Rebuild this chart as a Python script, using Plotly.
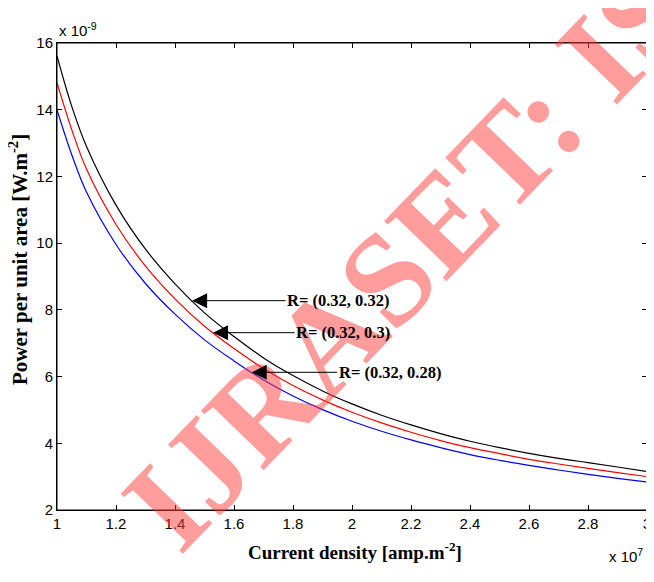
import plotly.graph_objects as go

# Current density (x 10^7 amp.m^-2)
current_density = [1.0, 1.05, 1.1, 1.2, 1.3, 1.4, 1.5, 1.6, 1.7, 1.8, 1.9, 2.0,
                   2.1, 2.2, 2.3, 2.4, 2.5, 2.6, 2.7, 2.8, 2.9, 3.0]

# Power per unit area (x 10^-9 W.m^-2)
power_r_032_032 = [15.61, 14.10, 12.90, 11.14, 9.82, 8.78, 7.91, 7.20, 6.56, 6.03, 5.57, 5.18,
                   4.84, 4.55, 4.29, 4.06, 3.87, 3.70, 3.55, 3.42, 3.29, 3.15]
power_r_032_030 = [14.81, 13.40, 12.22, 10.56, 9.31, 8.33, 7.51, 6.84, 6.24, 5.73, 5.30, 4.93,
                   4.61, 4.33, 4.08, 3.87, 3.69, 3.52, 3.38, 3.25, 3.12, 3.00]
power_r_032_028 = [13.99, 12.65, 11.53, 9.96, 8.79, 7.87, 7.10, 6.47, 5.90, 5.42, 5.01, 4.66,
                   4.36, 4.10, 3.87, 3.66, 3.49, 3.34, 3.20, 3.07, 2.95, 2.84]

series_names = ["R= (0.32, 0.32)", "R= (0.32, 0.3)", "R= (0.32, 0.28)"]
series_colors = ["black", "red", "blue"]
series_values = [power_r_032_032, power_r_032_030, power_r_032_028]

x_ticks = [1, 1.2, 1.4, 1.6, 1.8, 2, 2.2, 2.4, 2.6, 2.8, 3]
y_ticks = [2, 4, 6, 8, 10, 12, 14, 16]

# arrow tips (data x) and text offsets (px)
arrow_x = [1.458, 1.529, 1.66]
arrow_ax = [146, 130, 138]

fig = go.Figure()
for name, col, vals in zip(series_names, series_colors, series_values):
    fig.add_trace(go.Scatter(x=current_density, y=vals, mode="lines", name=name,
                             line=dict(color=col, width=1.2, shape="spline", smoothing=1.0),
                             showlegend=False))

def interp(xq, xs, ys):
    for i in range(len(xs) - 1):
        if xs[i] <= xq <= xs[i + 1]:
            t = (xq - xs[i]) / (xs[i + 1] - xs[i])
            return ys[i] + t * (ys[i + 1] - ys[i])
    return ys[-1]

axis_common = dict(showline=True, linecolor="black", linewidth=1, mirror="ticks",
                   ticks="inside", ticklen=5, tickcolor="black", showgrid=False,
                   zeroline=False, automargin=False,
                   tickfont=dict(family="Liberation Sans", size=15, color="black"))

fig.update_xaxes(range=[1, 3], tickvals=x_ticks, ticktext=[f"{v:g}" for v in x_ticks],
                 ticklabeloverflow="allow", **axis_common)
fig.update_yaxes(range=[2, 16], tickvals=y_ticks, ticktext=[str(v) for v in y_ticks],
                 **axis_common)

# frame
fig.add_shape(type="rect", xref="paper", yref="paper", x0=0, y0=0, x1=1, y1=1,
              line=dict(color="black", width=1), layer="above")

# page offset (browser body margin) is 8px; plot area in page: x 57..647, y 43..510
PX0, PX1, PY0, PY1 = 57, 647, 43, 510
def px(xp):
    return (xp - PX0) / (PX1 - PX0)
def py(yp):
    return (PY1 - yp) / (PY1 - PY0)

# watermark
fig.add_annotation(xref="paper", yref="paper", x=px(408), y=py(256), text="<b>IJRASET: IS</b>",
                   showarrow=False, textangle=-46, xanchor="center", yanchor="middle",
                   font=dict(family="Liberation Serif", size=132, color="rgba(255,60,60,0.5)"))

for name, vals, xa, ax in zip(series_names, series_values, arrow_x, arrow_ax):
    fig.add_annotation(x=xa, y=interp(xa, current_density, vals), xref="x", yref="y",
                       text="<b>" + name + "</b>", showarrow=True, ax=ax, ay=0,
                       arrowhead=2, arrowsize=3, arrowwidth=1, arrowcolor="black",
                       font=dict(family="Liberation Serif", size=16.5, color="black"))

# axis titles
fig.add_annotation(xref="paper", yref="paper", x=px(355), y=py(551),
                   xanchor="center", yanchor="middle",
                   text="<b>Current density [amp.m<sup>-2</sup>]</b>", showarrow=False,
                   font=dict(family="Liberation Serif", size=19, color="black"))
fig.add_annotation(xref="paper", yref="paper", x=px(19), y=py(260),
                   xanchor="center", yanchor="middle",
                   text="<b>Power per unit area [W.m<sup>-2</sup>]</b>", showarrow=False,
                   textangle=-90,
                   font=dict(family="Liberation Serif", size=21, color="black"))

# exponent labels
fig.add_annotation(xref="paper", yref="paper", x=0, y=1.0, xanchor="left", yanchor="bottom",
                   text="x 10<sup>-9</sup>", showarrow=False, yshift=2,
                   font=dict(family="Liberation Sans", size=15, color="black"))
fig.add_annotation(xref="paper", yref="paper", x=px(645), y=py(555), xanchor="right",
                   yanchor="middle", text="x 10<sup>7</sup>", showarrow=False,
                   font=dict(family="Liberation Sans", size=15, color="black"))

fig.update_layout(width=646, height=574, margin=dict(l=49, r=7, t=35, b=72, autoexpand=False),
                  paper_bgcolor="white", plot_bgcolor="white")
fig.write_html("out.html")
